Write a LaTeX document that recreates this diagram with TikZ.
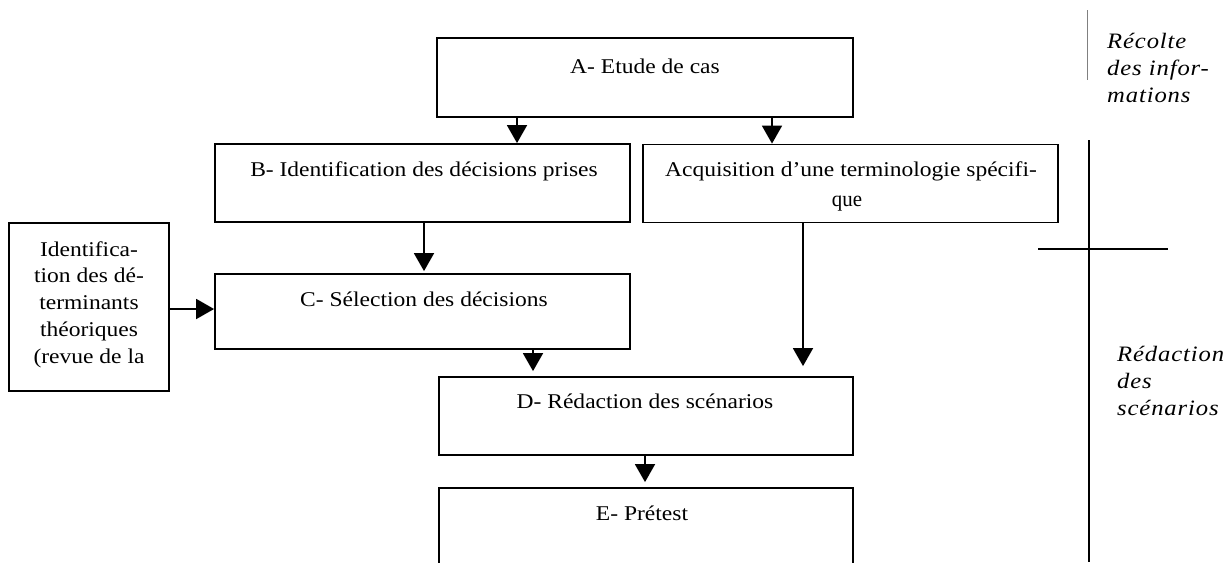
\documentclass[tikz,border=0pt]{standalone}
\usepackage{fontspec}
\setmainfont[FakeStretch=1.12]{Liberation Serif}
\newfontfamily\labfont[FakeStretch=1.12,LetterSpace=4]{Liberation Serif}
\newfontfamily\quefont[FakeStretch=0.95]{Liberation Serif}
\usetikzlibrary{arrows.meta}
\begin{document}
\begin{tikzpicture}[x=1pt,y=-1pt,
  box/.style={draw,line width=1.8pt,inner sep=0pt},
  txt/.style={anchor=base,inner sep=0pt,font=\fontsize{21}{26.7}\selectfont},
  arr/.style={line width=1.8pt,-{Triangle[length=18pt,width=20pt]}},
  side/.style={anchor=base west,inner sep=0pt,align=left,font=\fontsize{22}{27}\selectfont\labfont\itshape},
  sep/.style={line width=1.8pt}]
\useasboundingbox (0,0) rectangle (1231,562);
\clip (0,0) rectangle (1231,562);
% boxes
\node[box,minimum width=416pt,minimum height=79pt] (A) at (645,77.5) {};
\node[box,minimum width=415pt,minimum height=78pt] (B) at (422.5,183) {};
\node[box,minimum width=415pt,minimum height=78pt] (Q) at (850.5,183.5) {};
\node[box,minimum width=160pt,minimum height=168pt] (L) at (89,307) {};
\node[box,minimum width=415pt,minimum height=75pt] (C) at (422.5,311.5) {};
\node[box,minimum width=414pt,minimum height=78pt] (D) at (646,416) {};
\node[box,minimum width=414pt,minimum height=112pt] (E) at (646,544) {};
% texts
\node[txt] (At) at (645,73) {A- Etude de cas};
\node[txt] (Bt) at (424,176) {B- Identification des décisions prises};
\node[txt] (Qt) at (851,176) {Acquisition d’une terminologie spécifi-};
\node[anchor=base,inner sep=0pt,font=\fontsize{22}{24}\selectfont\quefont] (Qt2) at (847,206) {que};
\node[txt,align=center] (Lt) at (89,363) {Identifica-\\tion des dé-\\terminants\\théoriques\\(revue de la};
\node[txt] (Ct) at (424,306) {C- Sélection des décisions};
\node[txt] (Dt) at (645,408) {D- Rédaction des scénarios};
\node[txt] (Et) at (642,520) {E- Prétest};
\node[side] (S1) at (1107,102) {Récolte\\des infor-\\mations};
\node[side] (S2) at (1117,415) {Rédaction\\des\\scénarios};
% arrow x positions
\coordinate (x1) at (517,0);
\coordinate (x2) at (772,0);
\coordinate (x3) at (424,0);
\coordinate (y4) at (0,309);
\coordinate (x5) at (533,0);
\coordinate (x6) at (803,0);
\coordinate (x7) at (645,0);
\draw[arr] (A.south -| x1) -- (B.north -| x1);
\draw[arr] (A.south -| x2) -- (Q.north -| x2);
\draw[arr,shorten >=2pt] (B.south -| x3) -- (C.north -| x3);
\draw[arr] (L.east |- y4) -- (C.west |- y4);
\draw[arr,shorten >=5pt] (C.south -| x5) -- (D.north -| x5);
\draw[arr,shorten >=10pt] (Q.south -| x6) -- (D.north -| x6);
\draw[arr,shorten >=5pt] (D.south -| x7) -- (E.north -| x7);
% separators
\draw[line width=1pt,gray] (1087,10) -- (1087,80);
\draw[sep] (1089,140) -- (1089,562);
\draw[sep] (1038,249) -- (1168,249);
\end{tikzpicture}
\end{document}
